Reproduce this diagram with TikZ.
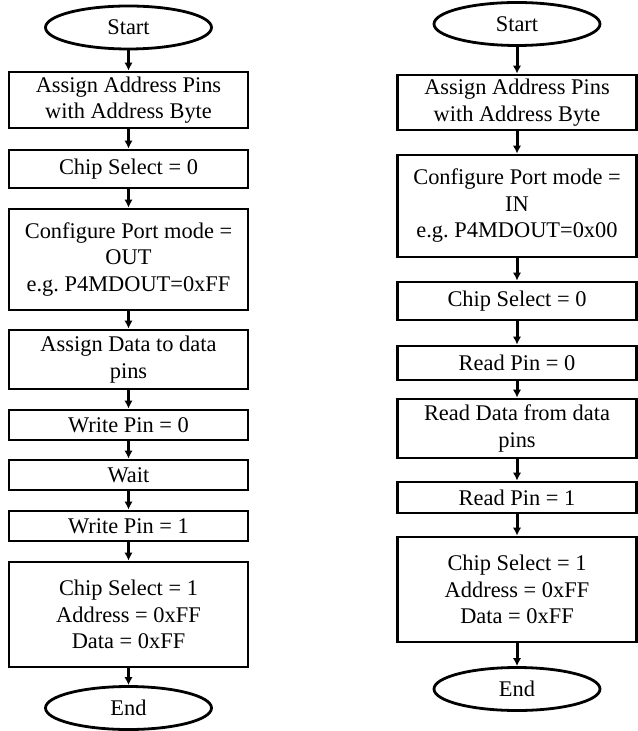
\documentclass[tikz,border=0pt]{standalone}
\usepackage{fontspec}
\setmainfont{Liberation Serif}
\usetikzlibrary{shapes.geometric, arrows.meta}

\begin{document}
\begin{tikzpicture}[
    x=0.5pt, y=-0.5pt,
    terminal/.style={ellipse, draw, line width=1.4pt, inner sep=0pt, minimum width=83pt, minimum height=21.5pt},
    process/.style={rectangle, draw, line width=1.4pt, inner sep=0pt, minimum width=119.5pt, align=center},
    line/.style={draw, line width=1.5pt, -{Latex[length=4pt,width=4.2pt]}},
    every node/.style={font=\fontsize{11.2}{13.25}\selectfont}
]
\useasboundingbox (0,0) rectangle (637,731);

% Write cycle
\node[terminal] (w_start) at (128.5,27.5) {Start};
\node[process, minimum height=28pt] (w_addr) at (128.5,100) {Assign Address Pins\\with Address Byte};
\node[process, minimum height=19pt] (w_cs0) at (128.5,169) {Chip Select = 0};
\node[process, minimum height=50.5pt] (w_port) at (128.5,259.5) {Configure Port mode =\\OUT\\e.g.\ P4MDOUT=0xFF};
\node[process, minimum height=29.5pt] (w_data) at (128.5,359.5) {Assign Data to data\\pins};
\node[process, minimum height=15pt] (w_wr0) at (128.5,425) {Write Pin = 0};
\node[process, minimum height=15pt] (w_wait) at (128.5,475) {Wait};
\node[process, minimum height=15pt] (w_wr1) at (128.5,526) {Write Pin = 1};
\node[process, minimum height=52.5pt] (w_reset) at (128.5,614.5) {Chip Select = 1\\Address = 0xFF\\Data = 0xFF};
\node[terminal] (w_end) at (128.5,708) {End};

% Read cycle
\node[terminal] (r_start) at (517,24) {Start};
\node[process, minimum height=27.5pt] (r_addr) at (517,102.5) {Assign Address Pins\\with Address Byte};
\node[process, minimum height=51pt] (r_port) at (517,206) {Configure Port mode =\\IN\\e.g.\ P4MDOUT=0x00};
\node[process, minimum height=19pt] (r_cs0) at (517,301) {Chip Select = 0};
\node[process, minimum height=17pt] (r_rd0) at (517,363) {Read Pin = 0};
\node[process, minimum height=29.5pt] (r_data) at (517,428.5) {Read Data from data\\pins};
\node[process, minimum height=15.5pt] (r_rd1) at (517,497.5) {Read Pin = 1};
\node[process, minimum height=52.5pt] (r_reset) at (517,589.5) {Chip Select = 1\\Address = 0xFF\\Data = 0xFF};
\node[terminal] (r_end) at (517,689) {End};

% Lines
\draw[line] (w_start) -- (w_addr);
\draw[line] (w_addr) -- (w_cs0);
\draw[line] (w_cs0) -- (w_port);
\draw[line] (w_port) -- (w_data);
\draw[line] (w_data) -- (w_wr0);
\draw[line] (w_wr0) -- (w_wait);
\draw[line] (w_wait) -- (w_wr1);
\draw[line] (w_wr1) -- (w_reset);
\draw[line] (w_reset) -- (w_end);

\draw[line] (r_start) -- (r_addr);
\draw[line] (r_addr) -- (r_port);
\draw[line] (r_port) -- (r_cs0);
\draw[line] (r_cs0) -- (r_rd0);
\draw[line] (r_rd0) -- (r_data);
\draw[line] (r_data) -- (r_rd1);
\draw[line] (r_rd1) -- (r_reset);
\draw[line] (r_reset) -- (r_end);

\end{tikzpicture}
\end{document}
